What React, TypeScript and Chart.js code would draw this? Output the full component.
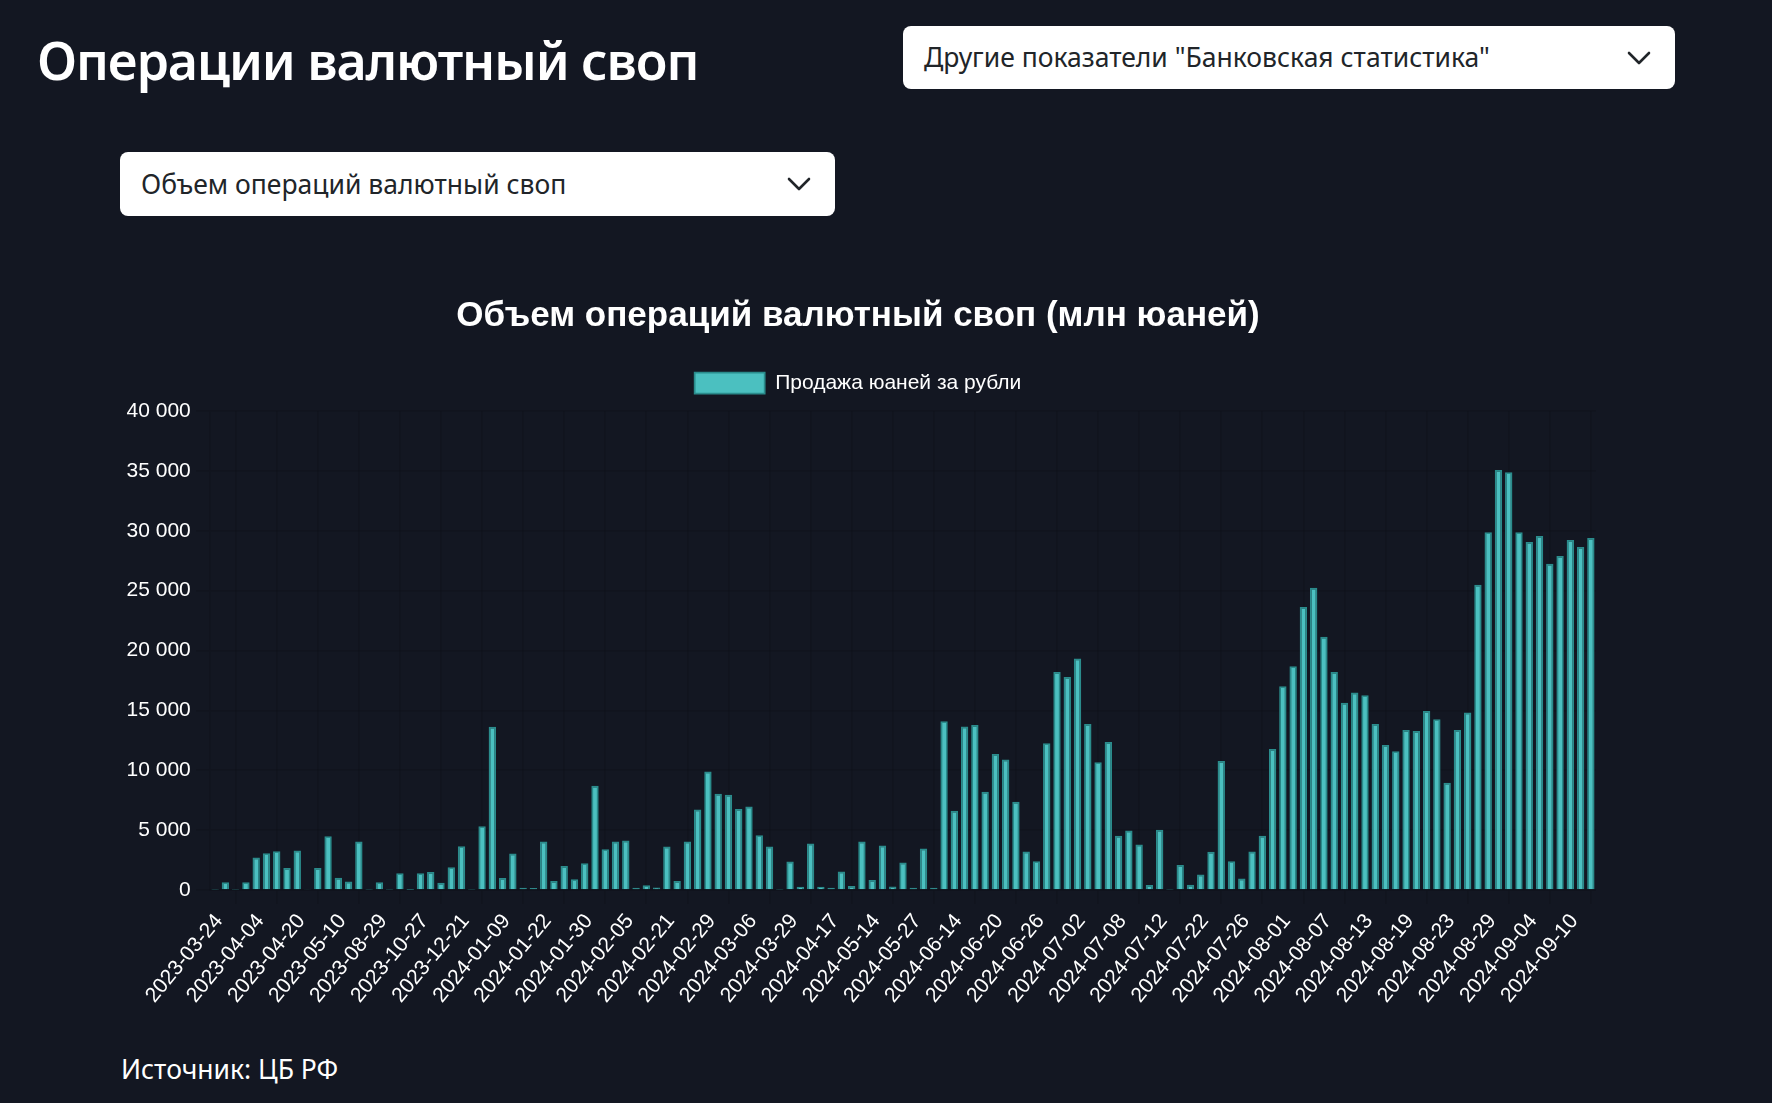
import React, { useEffect, useRef } from 'react';
import { Chart, registerables } from 'chart.js';

Chart.register(...registerables);

const dates: string[] = [
  '2023-03-24', '2023-03-28', '2023-03-30', '2023-04-03', '2023-04-04', '2023-04-06', '2023-04-11', '2023-04-17',
  '2023-04-20', '2023-04-25', '2023-04-27', '2023-05-04', '2023-05-10', '2023-05-17', '2023-06-01', '2023-07-12',
  '2023-08-29', '2023-09-13', '2023-10-04', '2023-10-17', '2023-10-27', '2023-11-14', '2023-11-29', '2023-12-12',
  '2023-12-21', '2023-12-26', '2023-12-28', '2024-01-03', '2024-01-09', '2024-01-11', '2024-01-16', '2024-01-18',
  '2024-01-22', '2024-01-24', '2024-01-26', '2024-01-29', '2024-01-30', '2024-01-31', '2024-02-01', '2024-02-02',
  '2024-02-05', '2024-02-08', '2024-02-13', '2024-02-16', '2024-02-21', '2024-02-26', '2024-02-27', '2024-02-28',
  '2024-02-29', '2024-03-01', '2024-03-04', '2024-03-05', '2024-03-06', '2024-03-07', '2024-03-11', '2024-03-19',
  '2024-03-29', '2024-04-03', '2024-04-08', '2024-04-12', '2024-04-17', '2024-04-22', '2024-04-26', '2024-05-06',
  '2024-05-14', '2024-05-16', '2024-05-21', '2024-05-23', '2024-05-27', '2024-05-30', '2024-06-05', '2024-06-11',
  '2024-06-14', '2024-06-17', '2024-06-18', '2024-06-19', '2024-06-20', '2024-06-21', '2024-06-24', '2024-06-25',
  '2024-06-26', '2024-06-27', '2024-06-28', '2024-07-01', '2024-07-02', '2024-07-03', '2024-07-04', '2024-07-05',
  '2024-07-08', '2024-07-09', '2024-07-10', '2024-07-11', '2024-07-12', '2024-07-16', '2024-07-17', '2024-07-19',
  '2024-07-22', '2024-07-23', '2024-07-24', '2024-07-25', '2024-07-26', '2024-07-29', '2024-07-30', '2024-07-31',
  '2024-08-01', '2024-08-02', '2024-08-05', '2024-08-06', '2024-08-07', '2024-08-08', '2024-08-09', '2024-08-12',
  '2024-08-13', '2024-08-14', '2024-08-15', '2024-08-16', '2024-08-19', '2024-08-20', '2024-08-21', '2024-08-22',
  '2024-08-23', '2024-08-26', '2024-08-27', '2024-08-28', '2024-08-29', '2024-08-30', '2024-09-02', '2024-09-03',
  '2024-09-04', '2024-09-05', '2024-09-06', '2024-09-09', '2024-09-10', '2024-09-11', '2024-09-12',
];

const cnySales: number[] = [
  30, 640, 30, 640, 2715, 3075, 3240, 1830,
  3300, 80, 1830, 4490, 1025, 720, 4045, 30,
  640, 30, 1410, 10, 1410, 1500, 610, 1910,
  3660, 30, 5320, 13630, 1000, 3050, 190, 170,
  4045, 750, 2000, 890, 2245, 8700, 3410, 4045,
  4130, 190, 390, 220, 3630, 750, 4045, 6730,
  9890, 8035, 7950, 6760, 6980, 4570, 3630, 30,
  2380, 277, 3880, 277, 190, 1550, 330, 4045,
  830, 3710, 300, 2300, 190, 3460, 190, 14100,
  6620, 13660, 13770, 8200, 11360, 10890, 7370, 3210,
  2410, 12250, 18200, 17790, 19340, 13860, 10670, 12360,
  4540, 4960, 3800, 415, 5040, 20, 2080, 443,
  1300, 3190, 10780, 2410, 970, 3210, 4540, 11780,
  17010, 18680, 23640, 25240, 21140, 18200, 15630, 16490,
  16270, 13860, 12110, 11580, 13360, 13270, 14940, 14270,
  8950, 13360, 14820, 25490, 29870, 35080, 34890, 29870,
  29070, 29570, 27240, 27900, 29230, 28650, 29400,
];

const seriesName = 'Продажа юаней за рубли';
const chartTitle = 'Объем операций валютный своп (млн юаней)';
const pageTitle = 'Операции валютный своп';
const selectTop = 'Другие показатели "Банковская статистика"';
const selectMain = 'Объем операций валютный своп';
const sourceText = 'Источник: ЦБ РФ';
const yMin = 0;
const yMax = 40000;
const yStep = 5000;

const BG = '#131722';
const CHART_FONT = "'Liberation Sans', Arial, Helvetica, sans-serif";
const PAGE_FONT = "'Noto Sans', 'Open Sans', sans-serif";

const fmt = (v: number) => String(Math.round(v)).replace(/\B(?=(\d{3})+(?!\d))/g, ' ');

const CW = 1476;
const CH = 735;

function Chevron() {
  return (
    <svg width="24" height="14" viewBox="0 0 24 14" style={{ display: 'block' }}>
      <polyline points="2,2 12,12 22,2" fill="none" stroke="#212529" strokeWidth="2.6" strokeLinecap="round" strokeLinejoin="round" />
    </svg>
  );
}

function Dropdown(props: { left: number; top: number; width: number; height: number; text: string }) {
  const { left, top, width, height, text } = props;
  return (
    <div
      style={{
        position: 'absolute', left, top, width, height, background: '#fff', borderRadius: 8,
        boxSizing: 'border-box', display: 'flex', alignItems: 'center', justifyContent: 'space-between',
        paddingLeft: 21, paddingRight: 24,
      }}
    >
      <span style={{ fontFamily: PAGE_FONT, fontSize: 26.5, lineHeight: '27px', color: '#212529', whiteSpace: 'nowrap' }}>{text}</span>
      <Chevron />
    </div>
  );
}

export default function App() {
  const ref = useRef<HTMLCanvasElement | null>(null);

  useEffect(() => {
    document.body.style.margin = '0';
    document.body.style.background = BG;
    const canvas = ref.current;
    if (!canvas) return;
    const grid = { color: 'rgba(0,0,0,0.1)', lineWidth: 1.75, tickLength: 14 };
    const chart = new Chart(canvas, {
      type: 'bar',
      data: {
        labels: dates,
        datasets: [
          {
            label: seriesName,
            data: cnySales,
            backgroundColor: 'rgb(75,192,192)',
            borderColor: 'rgb(42,140,140)',
            borderWidth: 1.75,
          },
        ],
      },
      plugins: [
        {
          id: 'legendGapInstall',
          afterInit(chart: any) {
            const legend = chart.legend;
            if (!legend || legend.__patched) return;
            const origFit = legend.fit;
            legend.fit = function (this: any) {
              origFit.call(this);
              this.height += 7.5;
            };
            legend.__patched = true;
          },
        },
      ],
      options: {
        responsive: false,
        animation: false,
        devicePixelRatio: 1,
        layout: { padding: 0 },
        plugins: {
          title: {
            display: true,
            text: chartTitle,
            color: '#ffffff',
            font: { family: CHART_FONT, size: 35, weight: 'bold' },
            padding: { top: 17.5, bottom: 17.5 },
          },
          legend: {
            display: true,
            labels: {
              color: '#ffffff',
              font: { family: CHART_FONT, size: 21 },
              boxWidth: 70,
              boxHeight: 21,
              padding: 17.5,
            },
          },
          tooltip: { enabled: false },
        },
        scales: {
          x: {
            grid: { ...grid },
            border: { color: 'rgba(0,0,0,0.1)', width: 1.75 },
            ticks: {
              color: '#ffffff',
              font: { family: CHART_FONT, size: 21 },
              minRotation: 50,
              maxRotation: 50,
              autoSkip: true,
              autoSkipPadding: 0,
              padding: 5.25,
              labelOffset: 4,
            },
          },
          y: {
            min: yMin,
            max: yMax,
            grid: { ...grid },
            border: { color: 'rgba(0,0,0,0.1)', width: 1.75 },
            ticks: {
              stepSize: yStep,
              color: '#ffffff',
              font: { family: CHART_FONT, size: 21 },
              padding: 5.25,
              callback: (v: any) => fmt(Number(v)),
            },
            afterFit: (scale: any) => {
              scale.width = 90;
            },
          },
        },
      },
    } as any);
    return () => chart.destroy();
  }, []);

  return (
    <div style={{ position: 'relative', width: 1772, height: 1103, background: BG, overflow: 'hidden' }}>
      <div
        style={{
          position: 'absolute', left: 37, top: 32, fontFamily: PAGE_FONT, fontSize: 52, lineHeight: '56px',
          fontWeight: 600, letterSpacing: -1.1, color: '#ffffff', whiteSpace: 'nowrap',
        }}
      >
        {pageTitle}
      </div>
      <Dropdown left={903} top={26} width={772} height={63} text={selectTop} />
      <Dropdown left={120} top={152} width={715} height={64} text={selectMain} />
      <div style={{ position: 'absolute', left: 120, top: 277.5, width: CW, height: CH }}>
        <canvas ref={ref} width={CW} height={CH} style={{ display: 'block', width: CW, height: CH }} />
      </div>
      <div
        style={{
          position: 'absolute', left: 121, top: 1055, fontFamily: PAGE_FONT, fontSize: 26.5, lineHeight: '28px',
          color: '#ffffff', whiteSpace: 'nowrap',
        }}
      >
        {sourceText}
      </div>
    </div>
  );
}
